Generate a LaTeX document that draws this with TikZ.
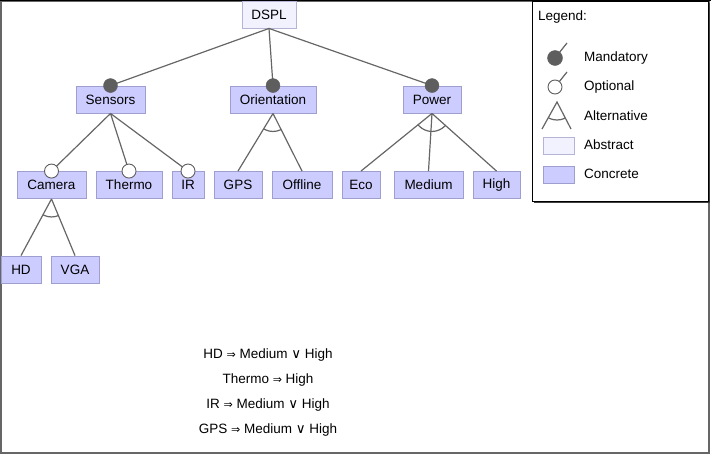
\documentclass[tikz,border=0pt]{standalone}
\usepackage{fontspec}
\setmainfont{Liberation Sans}
\newfontfamily\symfont{DejaVu Sans}
\newcommand{\myimpl}{{\symfont\fontsize{11}{12}\selectfont ⇒}}
\newcommand{\myor}{{\symfont ∨}}
\definecolor{concfill}{HTML}{CCCCFF}
\definecolor{concdraw}{HTML}{9E9ECF}
\definecolor{absfill}{HTML}{F2F2FF}
\definecolor{absdraw}{HTML}{B4B4D6}
\definecolor{edge}{HTML}{666666}
\definecolor{dot}{HTML}{5E5E5E}
\tikzset{
  feat/.style={draw=concdraw, fill=concfill, line width=0.9pt, minimum height=27pt, inner sep=0pt, font=\fontsize{13.5}{15}\selectfont},
  absfeat/.style={feat, draw=absdraw, fill=absfill},
  conn/.style={draw=edge, line width=1.2pt},
  mand/.style={circle, fill=dot, draw=dot, minimum size=14pt, inner sep=0pt},
  opt/.style={circle, fill=white, draw=dot, line width=0.9pt, minimum size=14pt, inner sep=0pt},
  txt/.style={font=\fontsize{13.5}{15}\selectfont, inner sep=0pt},
}
\begin{document}
\begin{tikzpicture}[x=1pt,y=-1pt]
\useasboundingbox (0,0) rectangle (711,455);
% outer frame
\draw[color=edge, line width=2pt] (1,1) rectangle (709,453);
\draw[black, line width=1pt] (0,0.5) -- (711,0.5);

% features
\node[absfeat, minimum width=54pt] (dspl) at (269,14.5) {DSPL};
\node[feat, minimum width=69pt] (sensors) at (110.5,99.5) {Sensors};
\node[feat, minimum width=86pt] (orient) at (273,99.5) {Orientation};
\node[feat, minimum width=58pt] (power) at (432,99.5) {Power};
\node[feat, minimum width=69pt] (camera) at (51.5,185) {Camera};
\node[feat, minimum width=66pt] (thermo) at (129,185) {Thermo};
\node[feat, minimum width=32pt] (ir) at (188,185) {IR};
\node[feat, minimum width=48pt] (gps) at (238,185) {GPS};
\node[feat, minimum width=60pt] (offline) at (302,185) {Offline};
\node[feat, minimum width=38pt] (eco) at (361,185) {Eco};
\node[feat, minimum width=69pt] (medium) at (428.5,185) {Medium};
\node[feat, minimum width=47pt] (high) at (496.5,185) {High};
\node[feat, minimum width=40pt] (hd) at (21,269.5) {HD};
\node[feat, minimum width=48pt] (vga) at (75,269.5) {VGA};

% mandatory edges
\foreach \c in {sensors, orient, power} {
  \draw[conn] (dspl.south) -- (\c.north);
  \node[mand] at (\c.north) {};
}
% optional edges
\foreach \c in {camera, thermo, ir} {
  \draw[conn] (sensors.south) -- (\c.north);
  \node[opt] at (\c.north) {};
}
% alternative groups
\draw[conn] (orient.south) -- (gps.north) (orient.south) -- (offline.north);
\begin{scope}
  \clip (orient.south) -- (gps.north) -- (offline.north) -- cycle;
  \draw[conn] (orient.south) circle (18pt);
\end{scope}
\draw[conn] (power.south) -- (eco.north) (power.south) -- (medium.north) (power.south) -- (high.north);
\begin{scope}
  \clip (power.south) -- (eco.north) -- (high.north) -- cycle;
  \draw[conn] (power.south) circle (18pt);
\end{scope}
\draw[conn] (camera.south) -- (hd.north) (camera.south) -- (vga.north);
\begin{scope}
  \clip (camera.south) -- (hd.north) -- (vga.north) -- cycle;
  \draw[conn] (camera.south) circle (18pt);
\end{scope}

% legend
\fill[black!75] (534,3) rectangle (710,203);
\draw[black, line width=1pt, fill=white] (532,1) rectangle (708,201);
\node[txt, anchor=west] (lgtitle) at (538,17) {Legend:};
\coordinate (lm) at (567,43);
\draw[conn] (555,58) -- (lm);
\node[mand, minimum size=15pt] (lmand) at (555,58) {};
\node[txt, anchor=west] (lmandt) at (584,58) {Mandatory};
\coordinate (lo) at (567,72);
\draw[conn] (lo) -- (555,87);
\node[opt] (lopt) at (555,87) {};
\node[txt, anchor=west] (loptt) at (584,87) {Optional};
\coordinate (la) at (557,102);
\coordinate (la1) at (542,129);
\coordinate (la2) at (571,129);
\draw[conn] (la1) -- (la) -- (la2);
\begin{scope}
  \clip (la) -- (la1) -- (la2) -- cycle;
  \draw[conn] (la) circle (18pt);
\end{scope}
\node[txt, anchor=west] (laltt) at (584,116) {Alternative};
\node[absfeat, minimum width=31pt, minimum height=17pt] (labs) at (558.5,145.5) {};
\node[txt, anchor=west] (labst) at (584,145) {Abstract};
\node[feat, minimum width=31pt, minimum height=17pt] (lconc) at (558.5,174.5) {};
\node[txt, anchor=west] (lconct) at (584,174) {Concrete};

% constraints
\node[txt] (c1) at (268,355) {HD \myimpl{} Medium \myor{} High};
\node[txt] (c2) at (268,380) {Thermo \myimpl{} High};
\node[txt] (c3) at (268,405) {IR \myimpl{} Medium \myor{} High};
\node[txt] (c4) at (268,430) {GPS \myimpl{} Medium \myor{} High};
\end{tikzpicture}
\end{document}
